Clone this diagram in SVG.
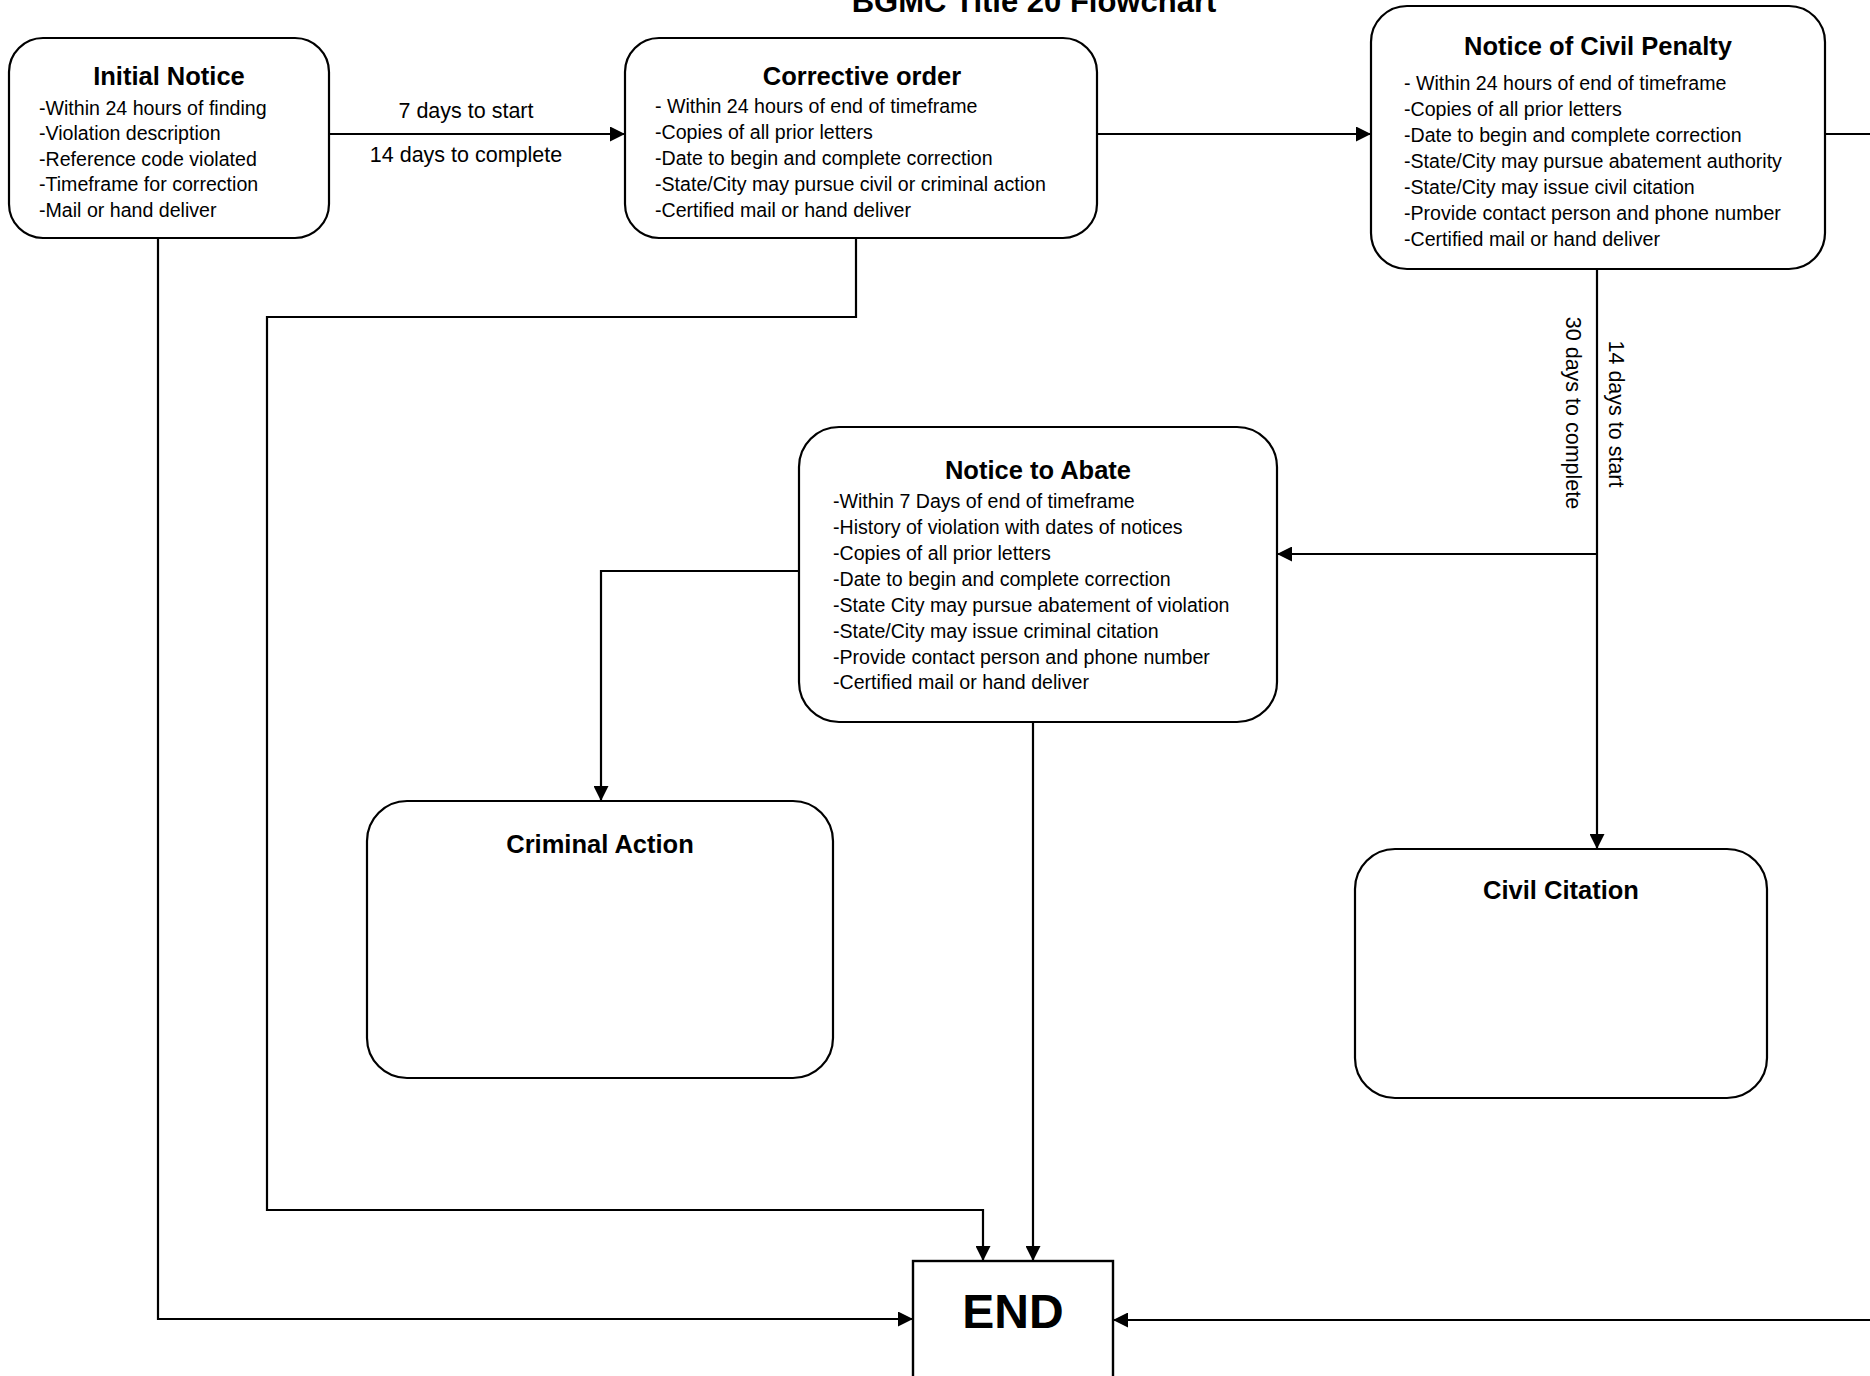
<svg xmlns="http://www.w3.org/2000/svg" width="1870" height="1376" viewBox="0 0 1870 1376">
  <defs>
    <marker id="arr" viewBox="0 0 15 15" refX="15" refY="7.5" markerWidth="15" markerHeight="15" markerUnits="userSpaceOnUse" orient="auto">
      <path d="M0,0 L15,7.5 L0,15 z" fill="#000"/>
    </marker>
    <style>
      .box { fill: #fff; stroke: #000; stroke-width: 2.2; }
      .conn { fill: none; stroke: #000; stroke-width: 2.2; }
      .title { font-family: "Liberation Sans", Arial, sans-serif; font-weight: bold; font-size: 25.5px; fill: #000; text-anchor: middle; }
      .body { font-family: "Liberation Sans", Arial, sans-serif; font-size: 19.6px; fill: #000; }
      .lbl { font-family: "Liberation Sans", Arial, sans-serif; font-size: 21.5px; fill: #000; text-anchor: middle; }
    </style>
  </defs>
  <rect width="1870" height="1376" fill="#fff"/>

  <text x="1034" y="12" style="font-family: 'Liberation Sans', Arial, sans-serif; font-weight: bold; font-size: 31px; text-anchor: middle;">BGMC Title 20 Flowchart</text>

  <g id="connectors">
    <path class="conn" d="M329,134 L625,134" marker-end="url(#arr)"/>
    <path class="conn" d="M1097,134 L1371,134" marker-end="url(#arr)"/>
    <path class="conn" d="M1825,134 L1885,134 L1885,1320 L1113,1320" marker-end="url(#arr)"/>
    <path class="conn" d="M1597,269 L1597,849" marker-end="url(#arr)"/>
    <path class="conn" d="M1597,554 L1277,554" marker-end="url(#arr)"/>
    <path class="conn" d="M799,571 L601,571 L601,801" marker-end="url(#arr)"/>
    <path class="conn" d="M1033,722 L1033,1261" marker-end="url(#arr)"/>
    <path class="conn" d="M856,237 L856,317 L267,317 L267,1210 L983,1210 L983,1261" marker-end="url(#arr)"/>
    <path class="conn" d="M158,237 L158,1319 L913,1319" marker-end="url(#arr)"/>
    <text class="lbl" x="466" y="118">7 days to start</text>
    <text class="lbl" x="466" y="162">14 days to complete</text>
    <text class="lbl" transform="translate(1609,414) rotate(90)">14 days to start</text>
    <text class="lbl" transform="translate(1566,413) rotate(90)">30 days to complete</text>
  </g>

  <g id="initial-notice">
    <rect class="box" x="9" y="38" width="320" height="200" rx="34" ry="34"/>
    <text class="title" x="169" y="85">Initial Notice</text>
    <text class="body" x="39" y="115">-Within 24 hours of finding</text>
    <text class="body" x="39" y="140">-Violation description</text>
    <text class="body" x="39" y="166">-Reference code violated</text>
    <text class="body" x="39" y="191">-Timeframe for correction</text>
    <text class="body" x="39" y="217">-Mail or hand deliver</text>
  </g>

  <g id="corrective-order">
    <rect class="box" x="625" y="38" width="472" height="200" rx="34" ry="34"/>
    <text class="title" x="862" y="85">Corrective order</text>
    <text class="body" x="655" y="113">- Within 24 hours of end of timeframe</text>
    <text class="body" x="655" y="139">-Copies of all prior letters</text>
    <text class="body" x="655" y="165">-Date to begin and complete correction</text>
    <text class="body" x="655" y="191">-State/City may pursue civil or criminal action</text>
    <text class="body" x="655" y="217">-Certified mail or hand deliver</text>
  </g>

  <g id="notice-civil-penalty">
    <rect class="box" x="1371" y="6" width="454" height="263" rx="36" ry="36"/>
    <text class="title" x="1598" y="55">Notice of Civil Penalty</text>
    <text class="body" x="1404" y="90">- Within 24 hours of end of timeframe</text>
    <text class="body" x="1404" y="116">-Copies of all prior letters</text>
    <text class="body" x="1404" y="142">-Date to begin and complete correction</text>
    <text class="body" x="1404" y="168">-State/City may pursue abatement authority</text>
    <text class="body" x="1404" y="194">-State/City may issue civil citation</text>
    <text class="body" x="1404" y="220">-Provide contact person and phone number</text>
    <text class="body" x="1404" y="246">-Certified mail or hand deliver</text>
  </g>

  <g id="notice-to-abate">
    <rect class="box" x="799" y="427" width="478" height="295" rx="40" ry="40"/>
    <text class="title" x="1038" y="479">Notice to Abate</text>
    <text class="body" x="833" y="508">-Within 7 Days of end of timeframe</text>
    <text class="body" x="833" y="534">-History of violation with dates of notices</text>
    <text class="body" x="833" y="560">-Copies of all prior letters</text>
    <text class="body" x="833" y="586">-Date to begin and complete correction</text>
    <text class="body" x="833" y="612">-State City may pursue abatement of violation</text>
    <text class="body" x="833" y="638">-State/City may issue criminal citation</text>
    <text class="body" x="833" y="664">-Provide contact person and phone number</text>
    <text class="body" x="833" y="689">-Certified mail or hand deliver</text>
  </g>

  <g id="criminal-action">
    <rect class="box" x="367" y="801" width="466" height="277" rx="40" ry="40"/>
    <text class="title" x="600" y="853">Criminal Action</text>
  </g>

  <g id="civil-citation">
    <rect class="box" x="1355" y="849" width="412" height="249" rx="40" ry="40"/>
    <text class="title" x="1561" y="899">Civil Citation</text>
  </g>

  <g id="end">
    <rect class="box" x="913" y="1261" width="200" height="120" style="stroke-width:2.4"/>
    <text x="1013" y="1328" style="font-family: 'Liberation Sans', Arial, sans-serif; font-weight: bold; font-size: 48px; text-anchor: middle;">END</text>
  </g>
</svg>
